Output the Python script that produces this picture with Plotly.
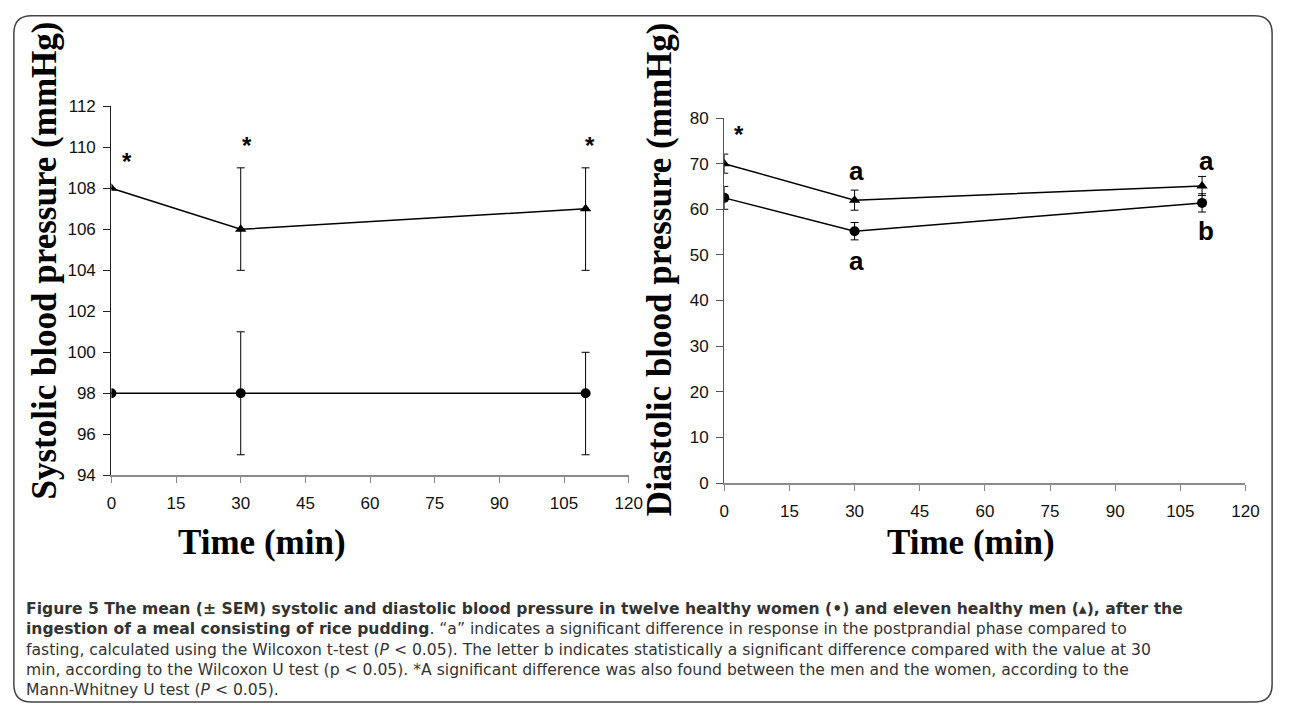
import plotly.graph_objects as go

W, H = 1293, 715

# ---------------- data ----------------
time_min = [0, 30, 110]
x_tick_vals = [0, 15, 30, 45, 60, 75, 90, 105, 120]

sys_women = [98, 98, 98]
sys_women_err_up = [0, 3, 2]
sys_women_err_down = [0, 3, 3]
sys_men = [108, 106, 107]
sys_men_err_up = [0, 3, 2]
sys_men_err_down = [0, 2, 3]
sys_y_ticks = [94, 96, 98, 100, 102, 104, 106, 108, 110, 112]

dia_women = [62.5, 55.2, 61.4]
dia_women_err = [2.5, 1.9, 2.0]
dia_men = [70.0, 62.0, 65.1]
dia_men_err = [2.1, 2.2, 2.1]
dia_y_ticks = [0, 10, 20, 30, 40, 50, 60, 70, 80]

# significance marks: (panel, x, y, text)
sig_marks = [
    ("sys", 3.5, 109.3, "*"),
    ("sys", 31.5, 110.1, "*"),
    ("sys", 111, 110.1, "*"),
    ("dia", 3.5, 76.3, "*"),
    ("dia", 30.5, 68.3, "a"),
    ("dia", 30.5, 48.6, "a"),
    ("dia", 111, 70.6, "a"),
    ("dia", 111, 55.3, "b"),
]

caption_lines = [
    "<b>Figure 5 The mean (± SEM) systolic and diastolic blood pressure in twelve healthy women (•) and eleven healthy men (▴), after the</b>",
    "<b>ingestion of a meal consisting of rice pudding</b>. “a” indicates a significant difference in response in the postprandial phase compared to",
    "fasting, calculated using the Wilcoxon t-test (<i>P</i> &lt; 0.05). The letter b indicates statistically a significant difference compared with the value at 30",
    "min, according to the Wilcoxon U test (p &lt; 0.05). *A significant difference was also found between the men and the women, according to the",
    "Mann-Whitney U test (<i>P</i> &lt; 0.05).",
]

# ---------------- helpers ----------------
def fx(px):
    return px / W

def fy(py):
    return 1 - py / H

fig = go.Figure()

line_style = dict(color="black", width=1.5)
err_common = dict(color="black", thickness=1, width=4)

# Systolic panel
fig.add_trace(go.Scatter(
    x=time_min, y=sys_women, mode="lines+markers", xaxis="x", yaxis="y",
    line=line_style, marker=dict(symbol="circle", size=10, color="black"),
    error_y=dict(type="data", symmetric=False, array=sys_women_err_up,
                 arrayminus=sys_women_err_down, **err_common),
    name="Women", showlegend=False, hoverinfo="skip"))
fig.add_trace(go.Scatter(
    x=time_min, y=sys_men, mode="lines+markers", xaxis="x", yaxis="y",
    line=line_style, marker=dict(symbol="triangle-up", size=10, color="black"),
    error_y=dict(type="data", symmetric=False, array=sys_men_err_up,
                 arrayminus=sys_men_err_down, **err_common),
    name="Men", showlegend=False, hoverinfo="skip"))

# Diastolic panel
fig.add_trace(go.Scatter(
    x=time_min, y=dia_women, mode="lines+markers", xaxis="x2", yaxis="y2",
    line=line_style, marker=dict(symbol="circle", size=10, color="black"),
    error_y=dict(type="data", array=dia_women_err, **err_common),
    name="Women", showlegend=False, hoverinfo="skip"))
fig.add_trace(go.Scatter(
    x=time_min, y=dia_men, mode="lines+markers", xaxis="x2", yaxis="y2",
    line=line_style, marker=dict(symbol="triangle-up", size=10, color="black"),
    error_y=dict(type="data", array=dia_men_err, **err_common),
    name="Men", showlegend=False, hoverinfo="skip"))

tick_font = dict(family="Liberation Sans, Arial", size=17, color="#111")
xaxis_common = dict(
    range=[0, 120], tickvals=x_tick_vals, showgrid=False, zeroline=False,
    showline=True, linecolor="#8a8a8a", linewidth=1.5, ticks="outside",
    ticklen=6, tickcolor="#8a8a8a", tickfont=tick_font, fixedrange=True,
    ticklabelstandoff=6,
)

fig.update_layout(
    width=W, height=H,
    margin=dict(l=0, r=0, t=0, b=0),
    paper_bgcolor="white", plot_bgcolor="white",
    xaxis=dict(domain=[fx(108), fx(633)], anchor="y", **xaxis_common),
    yaxis=dict(domain=[fy(479), fy(100)], anchor="x", range=[94, 112],
               tickvals=sys_y_ticks, showgrid=False, zeroline=False,
               showline=True, linecolor="#222", linewidth=1.2,
               ticks="outside", ticklen=7, tickcolor="#222",
               tickfont=tick_font, ticklabelstandoff=4, fixedrange=True),
    xaxis2=dict(domain=[fx(730), fx(1259)], anchor="y2", **xaxis_common),
    yaxis2=dict(domain=[fy(487), fy(112)], anchor="x2", range=[0, 80],
                tickvals=dia_y_ticks, showgrid=False, zeroline=False,
                showline=True, linecolor="#555", linewidth=1.2,
                ticks="outside", ticklen=7, tickcolor="#555",
                tickfont=tick_font, ticklabelstandoff=4, fixedrange=True),
)

annotations = []
serif_y = dict(family="Liberation Serif, Times New Roman", size=35, color="black")
serif_x = dict(family="Liberation Serif, Times New Roman", size=35, color="black")

# axis titles
annotations.append(dict(text="<b>Systolic blood pressure (mmHg)</b>", x=fx(40), y=fy(258),
                        xref="paper", yref="paper", textangle=-90, showarrow=False,
                        font=serif_y, xanchor="center", yanchor="middle"))
annotations.append(dict(text="<b>Diastolic blood pressure (mmHg)</b>", x=fx(665), y=fy(267),
                        xref="paper", yref="paper", textangle=-90, showarrow=False,
                        font=serif_y, xanchor="center", yanchor="middle"))
annotations.append(dict(text="<b>Time (min)</b>", x=fx(261), y=fy(548),
                        xref="paper", yref="paper", showarrow=False,
                        font=serif_x, xanchor="center", yanchor="middle"))
annotations.append(dict(text="<b>Time (min)</b>", x=fx(980), y=fy(548),
                        xref="paper", yref="paper", showarrow=False,
                        font=serif_x, xanchor="center", yanchor="middle"))

# significance marks
for panel, xv, yv, txt in sig_marks:
    ax = "x" if panel == "sys" else "x2"
    ay = "y" if panel == "sys" else "y2"
    annotations.append(dict(text="<b>%s</b>" % txt, x=xv, y=yv, xref=ax, yref=ay,
                            showarrow=False, xanchor="center", yanchor="middle",
                            font=dict(family="Liberation Sans, Arial",
                                      size=26 if txt != "*" else 24, color="black")))

# caption (one multi-line text block)
annotations.append(dict(text="<br>".join(caption_lines), x=fx(19), y=fy(605),
                        xref="paper", yref="paper", showarrow=False,
                        xanchor="left", yanchor="top", align="left",
                        font=dict(family="DejaVu Sans", size=15.6, color="#333")))

fig.update_layout(annotations=annotations)

# rounded frame
x0, x1 = fx(9), fx(1286)
y0, y1 = fy(712), fy(7)
rx, ry = 18 / W, 18 / H
path = (f"M {x0+rx},{y1} L {x1-rx},{y1} Q {x1},{y1} {x1},{y1-ry} "
        f"L {x1},{y0+ry} Q {x1},{y0} {x1-rx},{y0} L {x0+rx},{y0} "
        f"Q {x0},{y0} {x0},{y0+ry} L {x0},{y1-ry} Q {x0},{y1} {x0+rx},{y1} Z")
fig.add_shape(type="path", path=path, xref="paper", yref="paper",
              line=dict(color="#444", width=1.5), fillcolor="rgba(0,0,0,0)")

fig.write_html("out.html", config={"displayModeBar": False, "staticPlot": True},
               post_script="document.body.style.margin='0';document.body.style.overflow='hidden';")
